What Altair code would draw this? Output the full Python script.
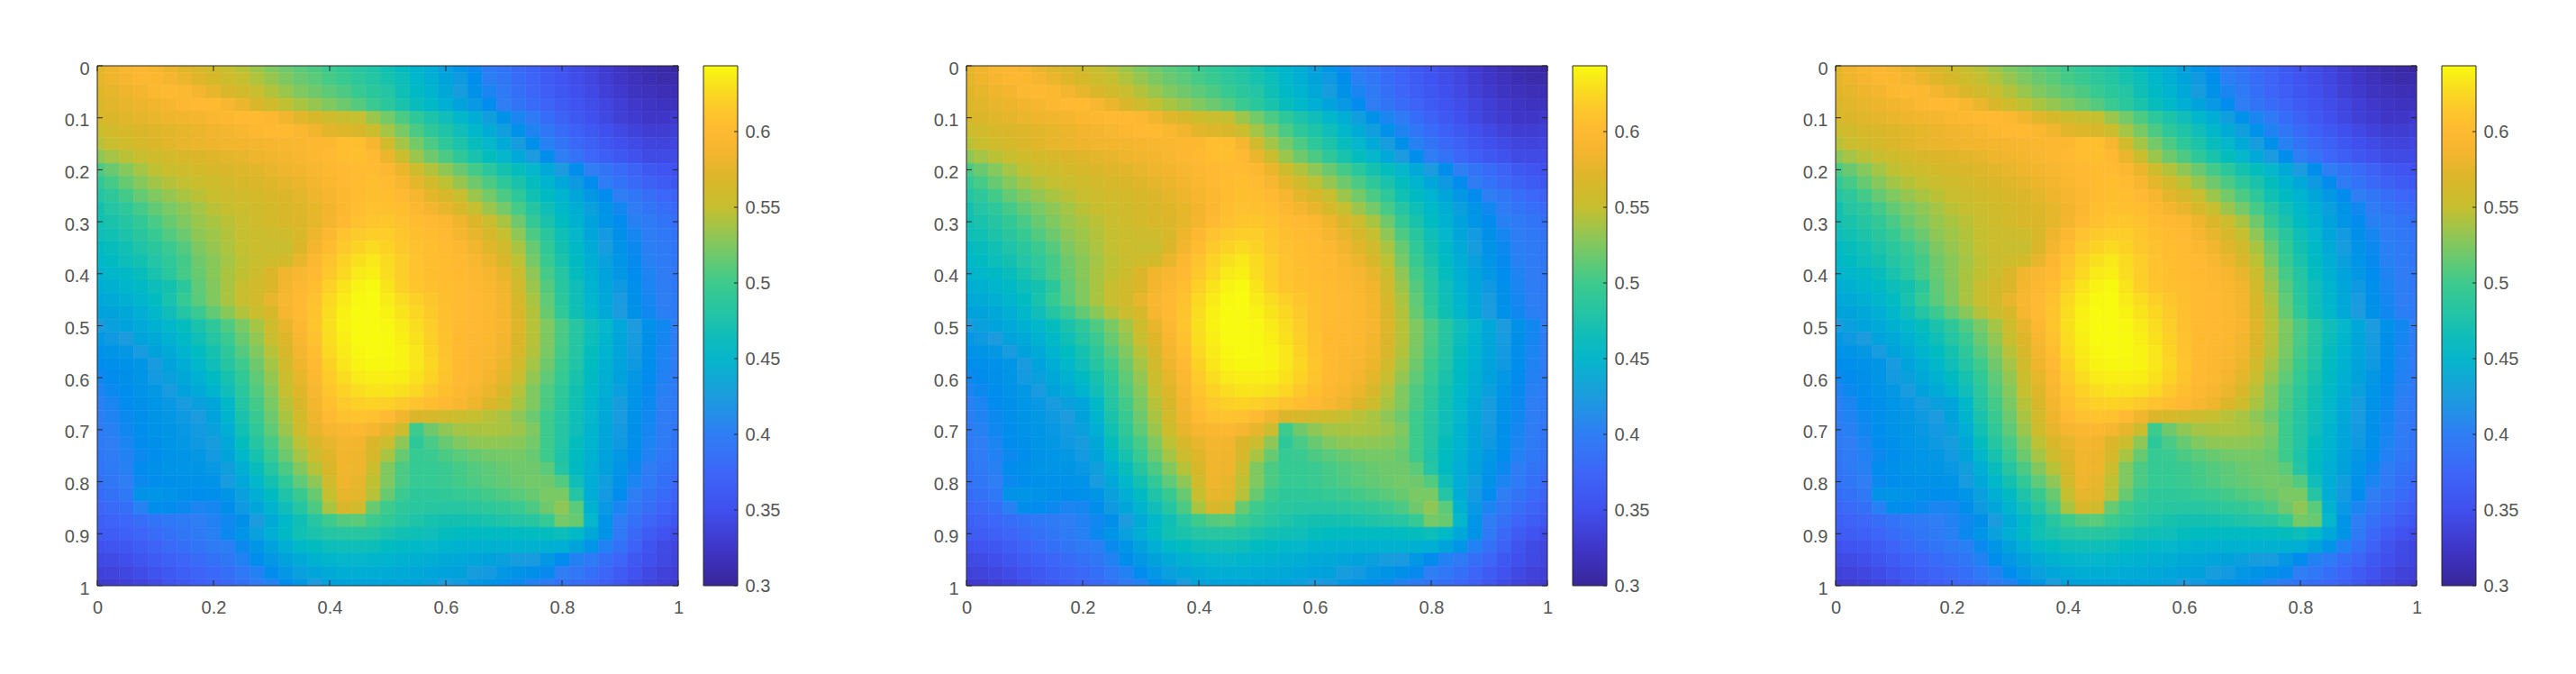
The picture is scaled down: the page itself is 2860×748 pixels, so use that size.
import altair as alt
import pandas as pd

X_NODES = [i * 0.025 for i in range(41)]
Y_NODES = [i * 0.025 for i in range(41)]
HEAT_ROWS = [
[575,582,592,598,590,580,572,566,558,550,544,535,525,517,510,505,498,492,485,478,470,460,448,440,428,418,408,397,388,378,370,360,352,345,338,330,322,315,310,306,304],
[575,582,590,598,597,590,580,572,564,556,550,542,533,524,516,510,503,497,489,482,474,464,452,443,432,422,412,401,392,381,372,363,354,347,340,332,325,318,313,310,310],
[572,577,582,588,595,599,595,587,578,568,560,552,543,534,525,518,511,505,496,488,480,468,456,447,436,426,415,405,395,385,375,366,358,350,343,335,328,322,318,316,315],
[568,574,578,581,585,590,596,600,601,592,580,568,558,548,540,533,525,517,508,498,488,476,463,453,442,431,421,410,400,390,380,371,362,354,347,340,333,327,323,321,320],
[565,570,573,576,579,582,585,589,594,598,601,601,597,585,574,565,558,553,550,535,520,505,490,477,465,452,440,427,415,405,395,382,370,360,350,342,335,330,325,325,328],
[555,560,565,568,571,574,577,581,584,587,592,596,600,601,594,584,574,571,567,555,538,522,505,490,478,465,452,439,427,415,404,392,380,369,359,350,343,337,332,332,335],
[545,552,559,564,570,574,578,580,582,584,586,588,590,592,594,596,598,604,606,590,560,538,520,505,490,477,463,450,438,426,414,402,390,378,368,358,350,344,339,338,340],
[530,538,546,552,558,562,566,569,572,575,578,582,585,588,592,596,600,604,606,600,580,555,535,518,505,490,475,462,450,437,425,412,400,388,376,367,358,351,345,344,345],
[505,516,527,538,548,554,558,562,565,568,571,574,578,582,586,592,597,600,602,602,597,580,558,543,530,516,502,488,473,462,450,437,425,412,400,390,380,370,360,354,350],
[493,503,515,527,537,544,549,554,558,561,565,568,572,576,581,587,594,600,603,604,602,592,575,560,547,533,518,505,490,476,462,448,435,422,410,398,388,378,368,362,358],
[480,490,502,514,525,533,540,546,552,556,560,563,566,570,575,582,590,597,603,606,605,600,590,575,565,552,535,520,505,490,470,458,447,434,420,410,400,392,383,376,370],
[472,480,490,502,513,522,530,538,546,551,555,559,563,567,571,577,586,597,605,608,607,604,598,588,578,565,550,535,520,503,482,467,454,441,428,417,407,398,390,383,378],
[470,476,483,493,504,515,525,534,540,546,552,558,562,566,570,577,588,600,608,612,614,608,603,600,596,582,570,555,540,518,494,476,460,445,430,419,410,402,395,390,385],
[465,470,477,486,496,507,517,530,536,543,550,554,556,558,566,582,598,610,616,618,618,612,606,603,600,590,578,565,550,530,505,486,467,450,434,423,414,406,399,394,389],
[458,463,470,478,488,498,508,524,533,541,549,555,553,552,570,588,603,616,622,626,622,615,608,604,602,596,585,573,560,540,515,492,472,455,438,426,416,408,401,396,391],
[453,458,464,472,481,491,502,518,528,538,547,553,557,562,578,596,610,622,630,634,626,618,610,605,603,600,592,580,567,547,521,497,476,458,441,428,418,409,402,397,392],
[447,451,456,463,475,488,503,515,528,540,548,556,570,585,592,600,615,625,635,638,628,618,610,606,603,601,597,590,578,555,530,503,482,462,444,431,420,411,404,398,393],
[441,444,449,456,464,473,488,512,526,540,552,560,570,588,596,604,620,632,640,643,632,620,612,607,604,602,599,594,584,560,535,508,485,465,447,433,422,413,405,399,394],
[435,438,443,449,460,475,495,510,525,540,552,560,578,592,600,609,625,636,643,645,636,628,620,613,606,602,600,595,587,565,540,512,488,467,449,435,424,414,406,400,395],
[430,432,436,442,452,465,482,498,513,528,543,555,565,590,600,611,628,639,645,646,640,632,624,616,607,602,600,596,589,568,543,515,491,469,451,437,425,415,407,401,396],
[425,428,431,437,444,452,462,476,490,506,522,538,558,578,597,612,630,640,645,646,642,636,628,618,607,601,600,597,590,572,545,525,505,485,465,450,435,425,415,407,400],
[420,422,425,431,437,445,455,468,482,498,515,532,552,572,593,608,628,638,644,645,643,638,631,620,609,601,599,596,588,570,545,524,504,484,464,449,434,424,414,406,399],
[415,417,420,424,430,438,448,460,473,490,508,525,545,566,588,604,625,636,642,644,643,640,633,622,610,601,598,594,585,566,543,522,502,482,462,447,433,423,413,405,398],
[411,413,415,419,424,431,440,451,465,482,500,518,538,560,582,600,621,633,640,642,642,640,633,624,612,601,597,591,580,560,538,518,499,479,460,445,431,422,412,404,398],
[407,410,414,418,423,428,436,445,458,474,492,512,532,555,577,596,617,628,635,638,638,637,631,622,611,600,595,587,575,553,532,512,495,476,458,443,430,420,410,403,397],
[404,408,412,416,420,424,430,438,448,465,487,507,527,550,572,592,612,622,628,632,632,630,624,615,606,598,590,580,567,545,525,506,490,472,455,441,428,418,409,402,396],
[401,405,410,414,418,421,424,428,433,454,482,502,522,545,567,588,607,616,620,622,620,616,610,605,600,592,582,570,558,540,525,505,488,470,452,438,426,416,408,400,395],
[399,404,408,413,417,420,422,425,430,448,476,497,517,540,562,583,600,608,610,608,600,585,570,565,560,555,550,545,540,530,517,500,484,467,450,436,424,415,407,399,393],
[397,402,407,412,416,419,421,423,428,442,470,492,512,535,558,578,590,594,596,590,578,556,500,518,530,538,540,541,540,535,525,500,482,465,448,434,423,414,406,398,392],
[395,400,405,410,414,418,420,422,426,436,462,483,503,525,547,566,578,588,586,570,555,530,490,504,515,525,530,531,530,528,520,500,480,462,447,433,422,413,405,396,390],
[393,398,403,408,412,416,418,420,423,432,452,474,496,517,538,556,572,585,583,565,540,515,495,498,505,510,515,519,521,521,515,500,478,460,445,431,420,411,403,394,388],
[390,396,402,410,414,417,418,419,421,427,442,463,483,505,526,545,567,584,582,555,525,505,495,495,498,503,507,511,515,518,518,510,480,458,442,429,418,408,399,390,383],
[386,392,400,408,412,414,415,415,416,424,435,452,472,492,512,530,560,582,578,548,525,505,495,495,498,502,506,510,513,517,520,518,507,465,440,427,415,405,395,385,378],
[381,386,394,416,418,416,414,412,413,418,428,442,459,478,497,515,550,578,575,545,515,498,490,490,492,495,498,502,506,510,515,522,522,480,440,423,411,400,390,380,372],
[375,379,385,402,412,410,408,405,406,412,422,434,448,465,483,505,540,568,560,515,500,490,487,485,484,484,487,490,493,498,505,518,530,510,445,421,405,393,383,373,365],
[368,371,376,383,389,394,397,400,403,407,414,425,438,453,468,484,500,508,510,500,492,485,478,474,472,472,473,475,478,480,485,495,520,515,450,418,400,386,375,365,358],
[362,365,369,375,381,387,392,397,402,408,418,428,442,456,470,476,481,484,485,482,476,471,468,465,462,460,459,459,459,459,460,462,464,455,436,417,395,378,362,352,346],
[351,354,358,365,372,379,385,390,395,401,408,418,430,442,453,460,464,466,466,464,460,456,453,450,448,446,445,445,445,445,445,444,442,432,418,403,386,370,353,344,340],
[343,345,349,355,362,369,375,380,386,392,403,412,420,430,438,445,449,450,450,449,447,445,443,441,438,436,433,430,428,426,424,420,410,403,395,384,374,360,350,343,339],
[336,338,341,346,353,360,367,372,378,385,394,403,411,420,428,434,438,441,441,441,439,438,436,434,431,429,426,423,420,417,414,409,400,393,385,375,363,352,343,337,334],
[329,331,334,338,345,353,360,366,371,378,385,395,403,411,419,425,429,431,432,432,432,431,430,428,425,423,420,417,413,408,403,397,390,384,377,368,358,346,338,333,330],
]
for row_check in HEAT_ROWS:
    assert len(row_check) == 41, len(row_check)
assert len(HEAT_ROWS) == 41

AXIS_X_TICKS = [0, 0.2, 0.4, 0.6, 0.8, 1]
AXIS_Y_TICKS = [0, 0.1, 0.2, 0.3, 0.4, 0.5, 0.6, 0.7, 0.8, 0.9, 1]
CBAR_TICKS = [0.3, 0.35, 0.4, 0.45, 0.5, 0.55, 0.6]
CBAR_MIN = 0.3
CBAR_MAX = 0.6435
PAL_VALUES = [0.300,0.325,0.350,0.375,0.400,0.425,0.450,0.465,0.480,0.500,0.525,0.550,0.570,0.585,0.600,0.615,0.630,0.6435]
PAL_COLORS = ["#38269a","#3f36c8","#4050ee","#3d66f8","#2f7ef4","#1c9cde","#06b6cb","#10bdb9","#24c4a5","#3dca8d",
              "#80c860","#c6bf30","#dcb62a","#f2b52e","#ffb932","#fdc82c","#f9e01e","#f8fa10"]

W, H = 645, 577
TICK = 6
INK = "#262626"
TEXT = "#555555"

cells = []
hx = (X_NODES[1] - X_NODES[0]) / 2
hy = (Y_NODES[1] - Y_NODES[0]) / 2
for r, row in enumerate(HEAT_ROWS):
    for c, v in enumerate(row):
        cells.append({"x0": X_NODES[c] - hx, "x1": X_NODES[c] + hx,
                      "y0": Y_NODES[r] - hy, "y1": Y_NODES[r] + hy, "v": v / 1000})
heat_df = pd.DataFrame(cells)
x_df = pd.DataFrame({"t": AXIS_X_TICKS})
y_df = pd.DataFrame({"t": AXIS_Y_TICKS})
c_df = pd.DataFrame({"t": CBAR_TICKS})
box_df = pd.DataFrame([{"a": 0, "a2": 1, "b": 0, "b2": 1}])
cbar_df = pd.DataFrame([{"a": 0, "a2": 1, "b": CBAR_MIN, "b2": CBAR_MAX}])

xs = alt.Scale(domain=[0, 1], nice=False, zero=False)
ys = alt.Scale(domain=[0, 1], nice=False, zero=False, reverse=True)
cs = alt.Scale(domain=PAL_VALUES, range=PAL_COLORS, clamp=True)
bs = alt.Scale(domain=[CBAR_MIN, CBAR_MAX], nice=False, zero=False)

xaxis = alt.Axis(values=AXIS_X_TICKS, format="~g", title=None, grid=False, domain=False, tickSize=0, labelPadding=14, labelFlush=False)
yaxis = alt.Axis(values=AXIS_Y_TICKS, format="~g", title=None, grid=False, domain=False, tickSize=0, labelPadding=9, labelFlush=False, labelOffset=3)
baxis = alt.Axis(values=CBAR_TICKS, format="~g", title=None, grid=False, domain=False, tickSize=0, labelPadding=8, orient="right", labelOverlap=False, labelFlush=False)

def panel():
    heat = alt.Chart(heat_df).mark_rect(clip=True, strokeWidth=0.6).encode(
        x=alt.X("x0:Q", scale=xs, axis=xaxis), x2="x1:Q",
        y=alt.Y("y0:Q", scale=ys, axis=yaxis), y2="y1:Q",
        color=alt.Color("v:Q", scale=cs, legend=None),
        stroke=alt.Color("v:Q", scale=cs, legend=None))
    box = alt.Chart(box_df).mark_rect(filled=False, stroke=INK, strokeWidth=1).encode(
        x=alt.X("a:Q", scale=xs, axis=xaxis), x2="a2:Q", y=alt.Y("b:Q", scale=ys, axis=yaxis), y2="b2:Q")
    tb = alt.Chart(x_df).mark_rule(color=INK).encode(x=alt.X("t:Q", scale=xs, axis=xaxis), y=alt.value(H), y2=alt.value(H - TICK))
    tt = alt.Chart(x_df).mark_rule(color=INK).encode(x=alt.X("t:Q", scale=xs, axis=xaxis), y=alt.value(0), y2=alt.value(TICK))
    tl = alt.Chart(y_df).mark_rule(color=INK).encode(y=alt.Y("t:Q", scale=ys, axis=yaxis), x=alt.value(0), x2=alt.value(TICK))
    tr = alt.Chart(y_df).mark_rule(color=INK).encode(y=alt.Y("t:Q", scale=ys, axis=yaxis), x=alt.value(W), x2=alt.value(W - TICK))
    return alt.layer(heat, box, tb, tt, tl, tr).properties(width=W, height=H)

def colorbar():
    stops = [alt.GradientStop(color=c, offset=(v - CBAR_MIN) / (CBAR_MAX - CBAR_MIN)) for v, c in zip(PAL_VALUES, PAL_COLORS)]
    grad = alt.Gradient(gradient="linear", stops=stops, x1=0, x2=0, y1=1, y2=0)
    bar = alt.Chart(cbar_df).mark_rect(color=grad, stroke=INK, strokeWidth=1).encode(
        x=alt.X("a:Q", scale=alt.Scale(domain=[0, 1], nice=False), axis=None), x2="a2:Q",
        y=alt.Y("b:Q", scale=bs, axis=baxis), y2="b2:Q")
    t = alt.Chart(c_df).mark_rule(color=INK).encode(y=alt.Y("t:Q", scale=bs, axis=baxis), x=alt.value(38), x2=alt.value(34))
    return alt.layer(bar, t).properties(width=38, height=H)

def group():
    return alt.hconcat(panel(), colorbar(), spacing=21)

chart = alt.hconcat(group(), group(), group(), spacing=170).properties(
    padding={"left": 63, "top": 58, "right": 20, "bottom": 20}
).configure_axis(labelFont="Liberation Sans", labelFontSize=20, labelColor=TEXT
).configure_view(stroke=None).resolve_scale(color="independent")

chart.save("out.html", embed_options={"renderer": "svg", "actions": False})
